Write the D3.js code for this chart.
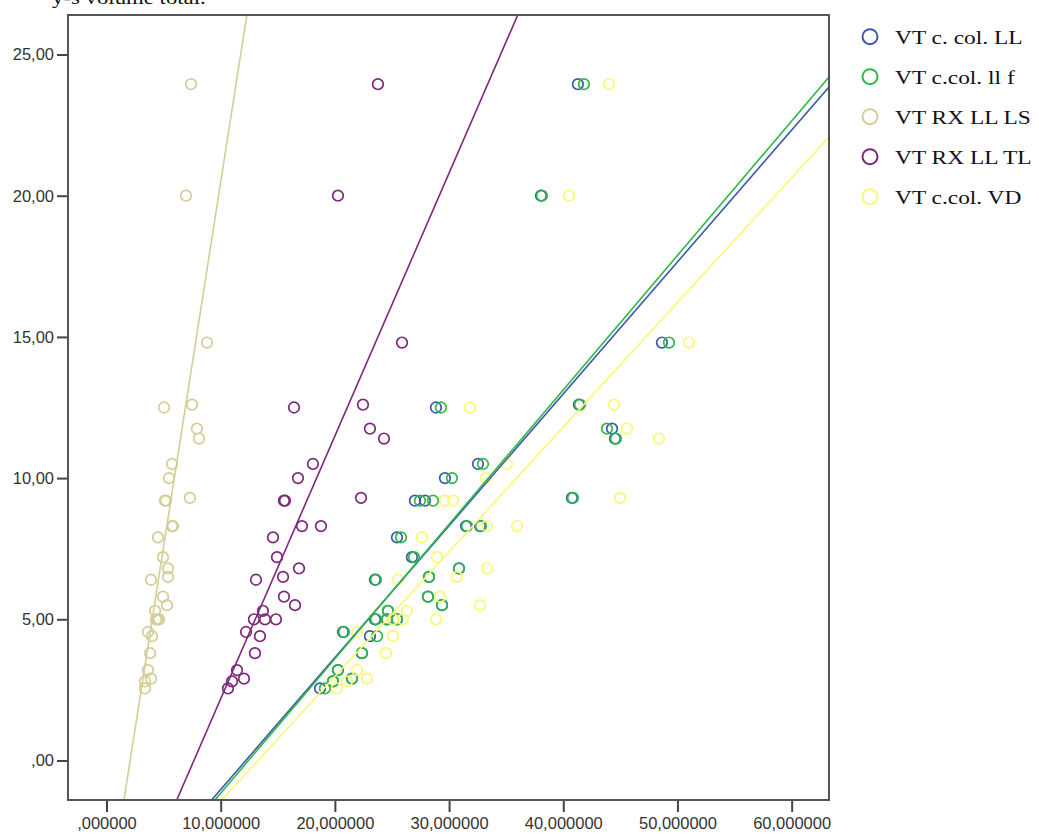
<!DOCTYPE html>
<html>
<head>
<meta charset="utf-8">
<script src="https://cdn.jsdelivr.net/npm/d3@7"></script>
<style>
  body { margin: 0; background: #fff; }
  .tick text { font-family: "Liberation Sans", Arial, sans-serif; fill: #333; }
  .legend text, .title { font-family: "Liberation Serif", "Times New Roman", serif; fill: #111; }
</style>
</head>
<body>
<svg id="chart"></svg>
<script>
// volume total (y), one value per case, shared by every series
const yTotal = [23.95, 20.0, 14.8, 12.6, 12.5, 11.75, 11.4, 10.5, 10.0, 9.3, 9.2, 9.2, 8.3, 8.3, 7.9, 7.2,
  6.8, 6.5, 6.4, 5.8, 5.5, 5.3, 5.0, 5.0, 5.0, 4.55, 4.4, 3.8, 3.2, 2.9, 2.8, 2.55];

// x values per series (millions), same case order as yTotal
const xColLL = [41.28, 38.05, 48.64, 41.37, 28.85, 44.27, 44.53, 32.53, 29.64, 40.76, 27.01, 27.89, 31.48, 32.71, 25.44, 26.75,
  30.87, 28.24, 23.51, 28.15, 29.38, 24.65, 23.51, 24.56, 25.44, 20.71, 23.07, 22.37, 20.27, 21.50, 19.83, 18.70];
const xColLLf = [41.81, 38.13, 49.26, 41.46, 29.29, 43.83, 44.61, 32.97, 30.25, 40.85, 27.45, 28.59, 31.57, 32.79, 25.79, 26.93,
  30.87, 28.24, 23.60, 28.15, 29.38, 24.65, 23.60, 24.56, 25.44, 20.80, 23.69, 22.37, 20.27, 21.50, 19.83, 19.13];
const xRxLS = [7.40, 6.96, 8.80, 7.49, 5.04, 7.92, 8.10, 5.74, 5.47, 7.31, 5.12, 5.21, 5.74, 5.82, 4.51, 4.95,
  5.39, 5.39, 3.90, 4.95, 5.30, 4.25, 4.33, 4.51, 4.60, 3.63, 3.98, 3.81, 3.63, 3.90, 3.37, 3.37];
const xRxTL = [23.77, 20.27, 25.88, 22.46, 16.42, 23.07, 24.30, 18.08, 16.77, 22.29, 15.54, 15.63, 17.12, 18.78, 14.58, 14.93,
  16.86, 15.46, 13.09, 15.54, 16.51, 13.70, 12.91, 13.88, 14.84, 12.22, 13.44, 13.00, 11.43, 12.04, 10.99, 10.64];
const xColVD = [44.00, 40.50, 51.01, 44.44, 31.83, 45.58, 48.38, 35.06, 33.23, 44.97, 29.64, 30.34, 33.32, 35.95, 27.63, 28.94,
  33.32, 30.69, 25.53, 29.20, 32.71, 26.31, 25.09, 25.96, 28.85, 21.94, 25.09, 24.47, 21.94, 22.81, 21.06, 20.18];

const seriesNames = ["VT c. col. LL", "VT c.col. ll f", "VT RX LL LS", "VT RX LL TL", "VT c.col. VD"];
const seriesColors = ["#3e58ac", "#2eb848", "#d3ce97", "#7c287d", "#fbf873"];
const seriesX = [xColLL, xColLLf, xRxLS, xRxTL, xColVD];

// linear fit lines (y = a + b x)
const fitIntercept = [-5.70, -5.92, -5.35, -7.13, -5.86];
const fitSlope = [0.4671, 0.4761, 2.583, 0.931, 0.4416];

const xTicks = [0, 10, 20, 30, 40, 50, 60];
const yTicks = [0, 5, 10, 15, 20, 25];

const dimensions = {
  width: 1039,
  height: 834,
  margin: { top: 15, right: 210, bottom: 34, left: 68 }
};
dimensions.boundedWidth = dimensions.width - dimensions.margin.left - dimensions.margin.right;
dimensions.boundedHeight = dimensions.height - dimensions.margin.top - dimensions.margin.bottom;

const wrapper = d3.select("#chart")
  .attr("width", dimensions.width)
  .attr("height", dimensions.height);

// axis title, cut off at the top edge as in the source image
wrapper.append("text")
  .attr("class", "title")
  .attr("transform", "translate(52,3.5) scale(1.2,1)")
  .style("font-size", "19px")
  .text("y-s volume total.");

const bounds = wrapper.append("g")
  .attr("transform", `translate(${dimensions.margin.left},${dimensions.margin.top})`);

const xScale = d3.scaleLinear()
  .domain([-3.37, 63.27])
  .range([0, dimensions.boundedWidth]);

const yScale = d3.scaleLinear()
  .domain([-1.40, 26.40])
  .range([dimensions.boundedHeight, 0]);

bounds.append("clipPath").attr("id", "clip")
  .append("rect")
  .attr("width", dimensions.boundedWidth)
  .attr("height", dimensions.boundedHeight);

// markers
const plot = bounds.append("g").attr("clip-path", "url(#clip)");
seriesX.forEach((xs, i) => {
  plot.append("g")
    .selectAll("circle")
    .data(xs.map((x, j) => ({ x: x, y: yTotal[j] })))
    .join("circle")
    .attr("cx", d => xScale(d.x))
    .attr("cy", d => yScale(d.y))
    .attr("r", 5.3)
    .attr("fill", "none")
    .attr("stroke", seriesColors[i])
    .attr("stroke-width", 1.7);
});

// fit lines
const [x0, x1] = xScale.domain();
plot.append("g")
  .selectAll("line")
  .data(seriesNames.map((n, i) => ({ a: fitIntercept[i], b: fitSlope[i], color: seriesColors[i] })))
  .join("line")
  .attr("x1", xScale(x0))
  .attr("y1", d => yScale(d.a + d.b * x0))
  .attr("x2", xScale(x1))
  .attr("y2", d => yScale(d.a + d.b * x1))
  .attr("stroke", d => d.color)
  .attr("stroke-width", 1.6);

// axes
const commaFmt = (spec) => (d) => d3.format(spec)(d).replace(".", ",").replace(/^0,/, ",");

const xAxis = bounds.append("g")
  .attr("transform", `translate(0,${dimensions.boundedHeight})`)
  .call(d3.axisBottom(xScale).tickValues(xTicks).tickSize(12).tickPadding(5).tickFormat(commaFmt(".6f")));

const yAxis = bounds.append("g")
  .call(d3.axisLeft(yScale).tickValues(yTicks).tickSize(11).tickPadding(3).tickFormat(commaFmt(".2f")));

[xAxis, yAxis].forEach(ax => {
  ax.select(".domain").remove();
  ax.selectAll(".tick line").attr("stroke", "#444").attr("stroke-width", 2);
  ax.selectAll(".tick text").style("font-size", "16.5px");
});

// frame
bounds.append("rect")
  .attr("width", dimensions.boundedWidth)
  .attr("height", dimensions.boundedHeight)
  .attr("fill", "none")
  .attr("stroke", "#555")
  .attr("stroke-width", 2);

// legend
const legend = wrapper.append("g").attr("class", "legend");
const rows = legend.selectAll("g")
  .data(seriesNames)
  .join("g")
  .attr("transform", (d, i) => `translate(870,${36.7 + i * 40})`);

rows.append("circle")
  .attr("r", 7.5)
  .attr("fill", "none")
  .attr("stroke", (d, i) => seriesColors[i])
  .attr("stroke-width", 2);

rows.append("text")
  .attr("transform", "translate(25,6.8) scale(1.2,1)")
  .style("font-size", "19.5px")
  .text(d => d);
</script>
</body>
</html>
